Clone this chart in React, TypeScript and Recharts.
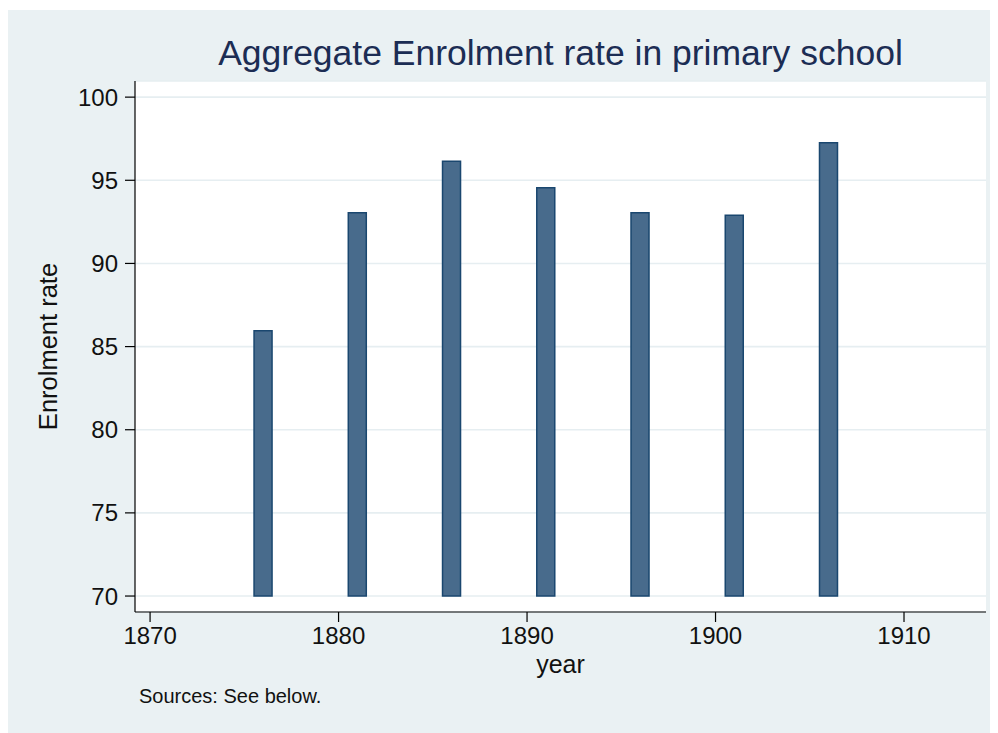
import { BarChart, Bar, XAxis, YAxis, CartesianGrid } from "recharts";

// enrolment rate (%) by census year
const years = [1876, 1881, 1886, 1891, 1896, 1901, 1906];
const enrolment = [85.95, 93.05, 96.15, 94.55, 93.05, 92.9, 97.25];
const yTicks = [70, 75, 80, 85, 90, 95, 100];
const xTicks = [1870, 1880, 1890, 1900, 1910];
const BASE = 70;

const FONT = "Arial, 'Liberation Sans', Helvetica, sans-serif";
const BG = "#eaf1f3";
const NAVY = "#1a476f";

const W = 990;
const H = 723;

export default function App() {
  // range bars so they start at 70 rather than at the axis minimum
  const rows = years.map((year, i) => ({ year, rate: [BASE, enrolment[i]] }));

  return (
    <div style={{ position: "relative", width: W, height: H, marginTop: 2, background: BG, fontFamily: FONT }}>
      <div
        style={{
          position: "absolute",
          left: 127,
          width: 851,
          top: 25,
          fontSize: 35.5,
          lineHeight: "36px",
          textAlign: "center",
          color: "#1c2d54",
          whiteSpace: "nowrap",
        }}
      >
        Aggregate Enrolment rate in primary school
      </div>
      <BarChart width={W} height={H} data={rows} margin={{ top: 71, right: 12, bottom: 0, left: 0 }}>
        <CartesianGrid horizontal vertical={false} fill="#ffffff" stroke="#e6eef1" strokeWidth={1.6} />
        <XAxis
          dataKey="year"
          type="number"
          domain={[1869.2, 1914.35]}
          allowDataOverflow
          ticks={xTicks}
          height={121}
          tickSize={10}
          tickMargin={5}
          axisLine={{ stroke: "#000", strokeWidth: 1.2 }}
          tickLine={{ stroke: "#000", strokeWidth: 1.2 }}
          tick={{ fill: "#111", fontSize: 24, fontFamily: FONT }}
          label={{
            value: "year",
            position: "insideBottom",
            offset: 60,
            style: { fill: "#111", fontSize: 25, fontFamily: FONT },
          }}
        />
        <YAxis
          type="number"
          domain={[69.04, 100.97]}
          allowDataOverflow
          ticks={yTicks}
          width={127}
          tickSize={10}
          tickMargin={7}
          axisLine={{ stroke: "#000", strokeWidth: 1.2 }}
          tickLine={{ stroke: "#000", strokeWidth: 1.2 }}
          tick={{ fill: "#111", fontSize: 24, fontFamily: FONT }}
          label={{
            value: "Enrolment rate",
            angle: -90,
            position: "insideLeft",
            offset: 40,
            style: { textAnchor: "middle", fill: "#111", fontSize: 25.5, fontFamily: FONT },
          }}
        />
        <Bar dataKey="rate" barSize={18} fill="#486b8c" stroke={NAVY} strokeWidth={1.5} isAnimationActive={false} />
      </BarChart>
      <div
        style={{
          position: "absolute",
          left: 131,
          top: 676,
          fontSize: 20,
          lineHeight: "20px",
          color: "#111",
          whiteSpace: "nowrap",
        }}
      >
        Sources: See below.
      </div>
    </div>
  );
}
